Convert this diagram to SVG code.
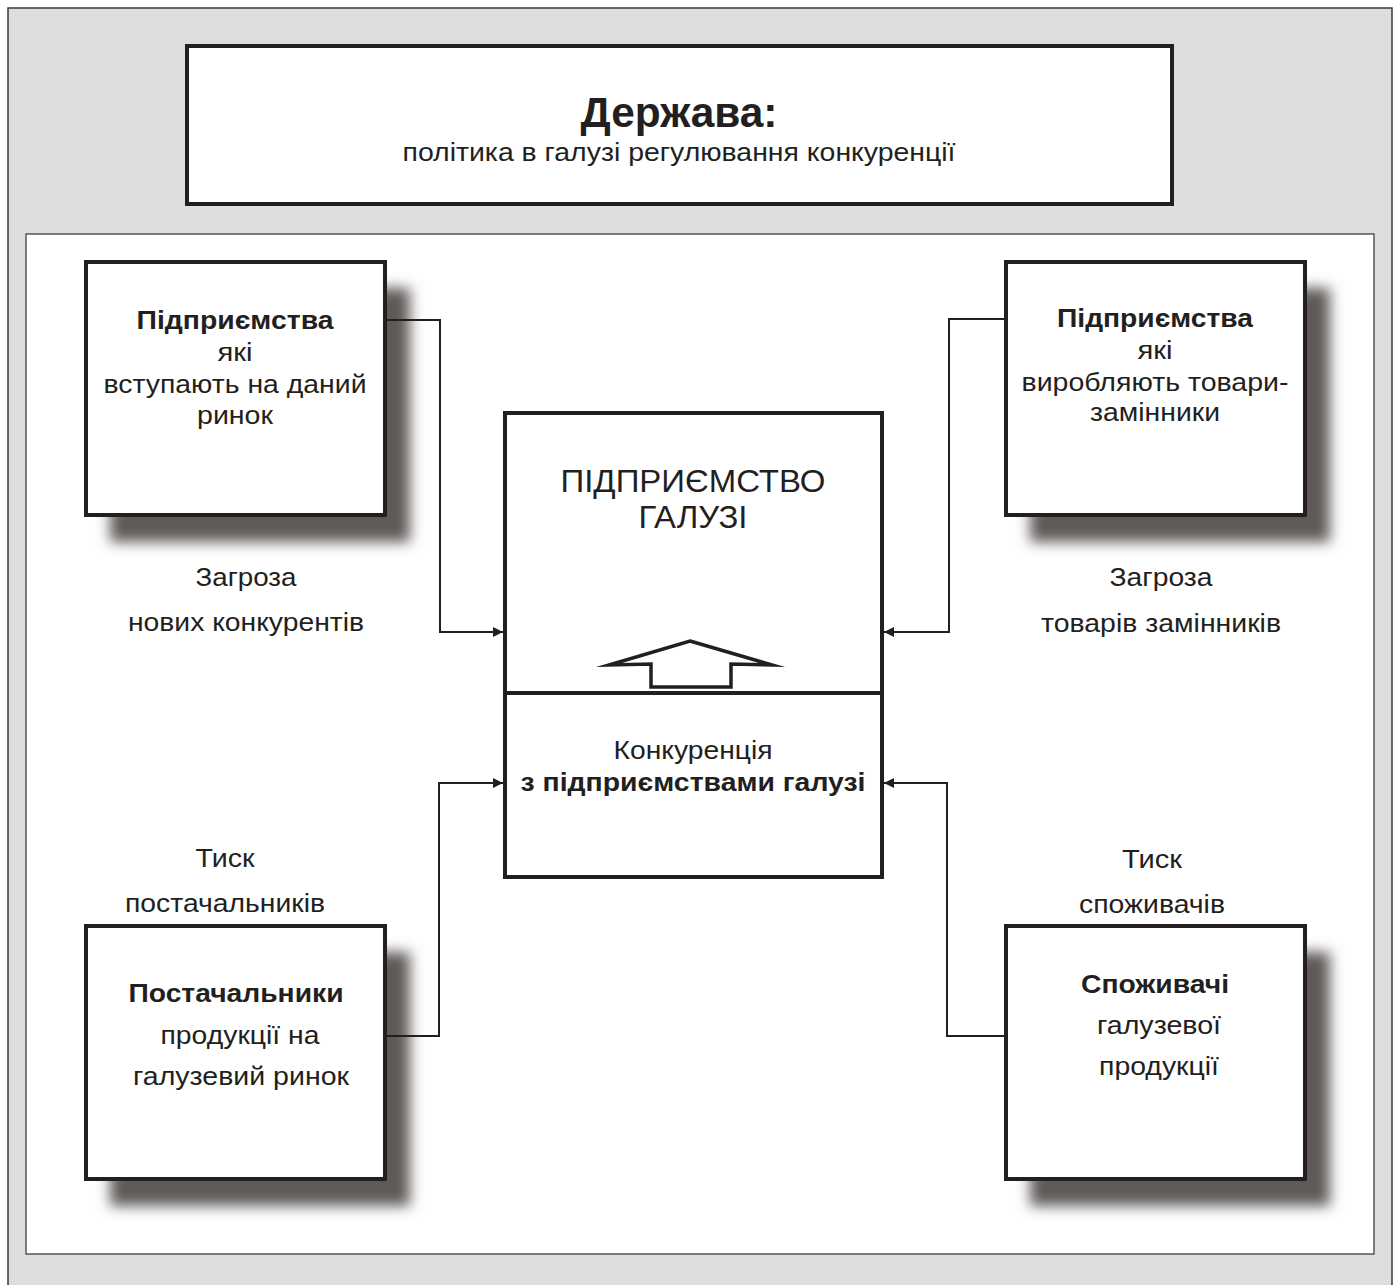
<svg xmlns="http://www.w3.org/2000/svg" width="1397" height="1285" viewBox="0 0 1397 1285" font-family="'Liberation Sans', Arial, sans-serif">
  <style>
    .box { fill: #ffffff; stroke: #231f20; stroke-width: 4; }
    .shadow { fill: #5f5a58; filter: url(#blur); }
    .wire { fill: none; stroke: #231f20; stroke-width: 2; }
    text { font-family: 'Liberation Sans', Arial, sans-serif; fill: #231f20; text-anchor: middle; }
    .t { font-size: 26px; }
    .b { font-weight: bold; }
    .h1 { font-size: 43px; font-weight: bold; }
    .h2 { font-size: 32px; }
    .m { font-size: 25px; }
  </style>
  <defs>
    <filter id="blur" x="-20%" y="-20%" width="140%" height="140%">
      <feGaussianBlur stdDeviation="7"/>
    </filter>
    <marker id="arr" viewBox="0 0 10 10" refX="10" refY="5" markerWidth="10" markerHeight="10" markerUnits="userSpaceOnUse" orient="auto">
      <path d="M0,0 L10,5 L0,10 Z" fill="#231f20"/>
    </marker>
  </defs>

  <!-- outer frame and inner panel -->
  <rect x="8" y="8" width="1384" height="1290" fill="#dededd" stroke="#3a3a3a" stroke-width="1.5"/>
  <rect x="26" y="234" width="1348" height="1020" fill="#ffffff" stroke="#555555" stroke-width="1.5"/>

  <!-- state -->
  <g id="state">
    <rect class="box" x="187" y="46" width="985" height="158"/>
    <text x="679" y="127" class="h1" textLength="197" lengthAdjust="spacingAndGlyphs">Держава:</text>
    <text x="679" y="161" class="m" textLength="553" lengthAdjust="spacingAndGlyphs">політика в галузі регулювання конкуренції</text>
  </g>

  <!-- new entrants -->
  <g id="entrants">
    <rect class="shadow" x="110" y="288" width="300" height="254"/>
    <rect class="box" x="86" y="262" width="299" height="253"/>
    <text x="235" y="329" class="t b" textLength="197" lengthAdjust="spacingAndGlyphs">Підприємства</text>
    <text x="235" y="361" class="t" textLength="35" lengthAdjust="spacingAndGlyphs">які</text>
    <text x="235" y="393" class="t" textLength="263" lengthAdjust="spacingAndGlyphs">вступають на даний</text>
    <text x="235" y="424" class="t" textLength="76" lengthAdjust="spacingAndGlyphs">ринок</text>
  </g>
  <g id="label-entrants">
    <text x="246" y="586" class="t" textLength="101" lengthAdjust="spacingAndGlyphs">Загроза</text>
    <text x="246" y="631" class="t" textLength="236" lengthAdjust="spacingAndGlyphs">нових конкурентів</text>
  </g>

  <!-- substitutes -->
  <g id="substitutes">
    <rect class="shadow" x="1030" y="288" width="300" height="254"/>
    <rect class="box" x="1006" y="262" width="299" height="253"/>
    <text x="1155" y="327" class="t b" textLength="196" lengthAdjust="spacingAndGlyphs">Підприємства</text>
    <text x="1155" y="359" class="t" textLength="35" lengthAdjust="spacingAndGlyphs">які</text>
    <text x="1155" y="391" class="t" textLength="267" lengthAdjust="spacingAndGlyphs">виробляють товари-</text>
    <text x="1155" y="421" class="t" textLength="130" lengthAdjust="spacingAndGlyphs">замінники</text>
  </g>
  <g id="label-substitutes">
    <text x="1161" y="586" class="t" textLength="103" lengthAdjust="spacingAndGlyphs">Загроза</text>
    <text x="1161" y="632" class="t" textLength="240" lengthAdjust="spacingAndGlyphs">товарів замінників</text>
  </g>

  <!-- suppliers -->
  <g id="suppliers">
    <rect class="shadow" x="110" y="952" width="300" height="254"/>
    <rect class="box" x="86" y="926" width="299" height="253"/>
    <text x="236" y="1002" class="t b" textLength="215" lengthAdjust="spacingAndGlyphs">Постачальники</text>
    <text x="240" y="1044" class="t" textLength="159" lengthAdjust="spacingAndGlyphs">продукції на</text>
    <text x="241" y="1085" class="t" textLength="216" lengthAdjust="spacingAndGlyphs">галузевий ринок</text>
  </g>
  <g id="label-suppliers">
    <text x="225" y="867" class="t" textLength="59" lengthAdjust="spacingAndGlyphs">Тиск</text>
    <text x="225" y="912" class="t" textLength="200" lengthAdjust="spacingAndGlyphs">постачальників</text>
  </g>

  <!-- buyers -->
  <g id="buyers">
    <rect class="shadow" x="1030" y="952" width="300" height="254"/>
    <rect class="box" x="1006" y="926" width="299" height="253"/>
    <text x="1155" y="993" class="t b" textLength="148" lengthAdjust="spacingAndGlyphs">Споживачі</text>
    <text x="1159" y="1034" class="t" textLength="124" lengthAdjust="spacingAndGlyphs">галузевої</text>
    <text x="1159" y="1075" class="t" textLength="120" lengthAdjust="spacingAndGlyphs">продукції</text>
  </g>
  <g id="label-buyers">
    <text x="1152" y="868" class="t" textLength="60" lengthAdjust="spacingAndGlyphs">Тиск</text>
    <text x="1152" y="913" class="t" textLength="146" lengthAdjust="spacingAndGlyphs">споживачів</text>
  </g>

  <!-- industry firm -->
  <g id="industry">
    <rect class="box" x="505" y="413" width="377" height="464"/>
    <line x1="505" y1="693" x2="882" y2="693" stroke="#231f20" stroke-width="4"/>
    <text x="693" y="492" class="h2" textLength="265" lengthAdjust="spacingAndGlyphs">ПІДПРИЄМСТВО</text>
    <text x="693" y="528" class="h2" textLength="109" lengthAdjust="spacingAndGlyphs">ГАЛУЗІ</text>
    <polygon points="690,641 772,665 731,664 731,687 651,687 651,664 609,665" fill="#ffffff" stroke="#231f20" stroke-width="3.5" stroke-linejoin="miter" stroke-miterlimit="20"/>
    <text x="693" y="759" class="t" textLength="159" lengthAdjust="spacingAndGlyphs">Конкуренція</text>
    <text x="693" y="791" class="t b" textLength="345" lengthAdjust="spacingAndGlyphs">з підприємствами галузі</text>
  </g>

  <!-- connectors, drawn over the shadows -->
  <g id="connectors">
    <path class="wire" d="M386,320 H440 V632 H503" marker-end="url(#arr)"/>
    <path class="wire" d="M1004,319 H949 V632 H884" marker-end="url(#arr)"/>
    <path class="wire" d="M387,1036 H439 V783 H503" marker-end="url(#arr)"/>
    <path class="wire" d="M1004,1036 H947 V783 H884" marker-end="url(#arr)"/>
  </g>
</svg>
